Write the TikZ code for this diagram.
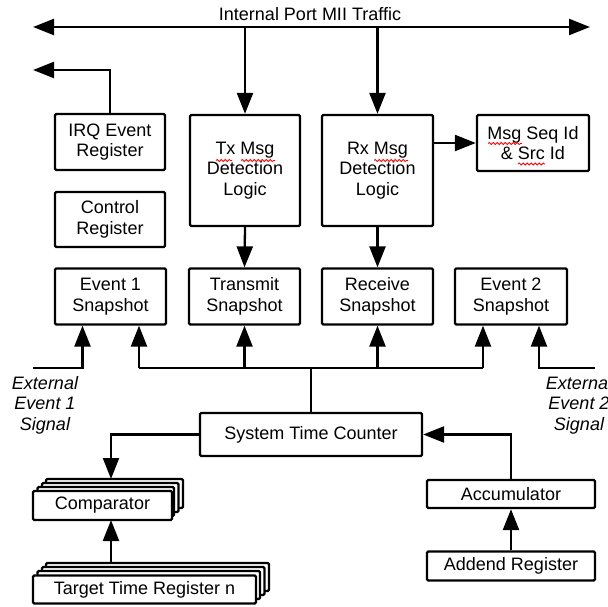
\documentclass[tikz,border=0pt]{standalone}
\usepackage{fontspec}
\setmainfont{Liberation Sans}
\usetikzlibrary{arrows.meta,decorations.pathmorphing}
\tikzset{
  box/.style={draw, line width=2.3pt, rounded corners=1.2pt, fill=white, align=center,
    inner sep=0pt, font=\fontsize{18}{20.5}\selectfont},
  mbox/.style={box, execute at begin node={\rule{0pt}{18pt}}},
  layer/.style={draw, line width=2.3pt, rounded corners=1.2pt, fill=white},
  wire/.style={line width=2.3pt},
  arr/.style={line width=2.3pt, -{Triangle[length=21pt,width=16pt]}},
  darr/.style={line width=2.3pt, {Triangle[length=21pt,width=16pt]}-{Triangle[length=21pt,width=16pt]}},
  lbl/.style={font=\fontsize{18}{20.5}\selectfont, align=center, inner sep=0pt},
  ext/.style={font=\fontsize{18}{20.5}\selectfont\itshape, align=center, inner sep=0pt},
  squig/.style={red, line width=0.8pt, decorate, decoration={snake, amplitude=1pt, segment length=4pt}}
}
\begin{document}
\begin{tikzpicture}[x=1pt,y=-1pt]
\useasboundingbox (0,0) rectangle (608,607);
\clip (0,0) rectangle (608,607);
% top bus
\coordinate (busL) at (33,27);
\coordinate (busR) at (590,27);
\draw[darr] (busL) -- (busR);
\node[lbl] (mii) at (310,14) {Internal Port MII Traffic};
% boxes row 1
\node[mbox, minimum width=110, minimum height=56] (irq) at (110,142) {IRQ Event\\Register};
\node[mbox, minimum width=110, minimum height=55] (ctrl) at (110,219.5) {Control\\Register};
\node[mbox, minimum width=110, minimum height=111] (tx) at (245,170.5) {Tx Msg\\Detection\\Logic};
\node[mbox, minimum width=111, minimum height=111] (rx) at (377.5,170.5) {Rx Msg\\Detection\\Logic};
\node[mbox, minimum width=112, minimum height=56] (msg) at (533,143) {Msg Seq Id\\\& Src Id};
% spell-check squiggles
\draw[squig] (216,160.5) -- (232,160.5);
\draw[squig] (241,160.5) -- (275,160.5);
\draw[squig] (374,160.5) -- (408,160.5);
\draw[squig] (488,143.5) -- (522,143.5);
\draw[squig] (518,164) -- (545,164);
% snapshots
\node[mbox, minimum width=111, minimum height=56] (ev1) at (110.5,296.5) {Event 1\\Snapshot};
\node[mbox, minimum width=111, minimum height=56] (tsn) at (244.5,296.5) {Transmit\\Snapshot};
\node[mbox, minimum width=111, minimum height=56] (rsn) at (377.5,296.5) {Receive\\Snapshot};
\node[mbox, minimum width=112, minimum height=56] (ev2) at (511,296.5) {Event 2\\Snapshot};
% system time counter
\node[box, minimum width=222, minimum height=43] (stc) at (311,434.5) {System Time Counter};
% accumulator / addend
\node[box, minimum width=168, minimum height=28] (acc) at (511,494) {Accumulator};
\node[box, minimum width=168, minimum height=29] (add) at (511,566) {Addend Register};
% comparator stack
\draw[layer] (46,479) rectangle (183,508);
\draw[layer] (42,483) rectangle (178.5,512);
\draw[layer] (37.5,487) rectangle (174,516);
\node[box, minimum width=139, minimum height=29] (cmp) at (102.5,505.5) {Comparator};
% target stack
\draw[layer] (46,563) rectangle (269,591);
\draw[layer] (42,567) rectangle (264.5,595);
\draw[layer] (37.5,571) rectangle (260,599);
\node[box, minimum width=223, minimum height=28] (ttr) at (144.5,589.5) {Target Time Register n};
% arrows from bus to detection logic
\draw[arr] (tx.north |- busL) -- (tx.north);
\draw[arr] (rx.north |- busL) -- (rx.north);
% IRQ out
\coordinate (irqout) at (33,70);
\draw[arr] (irq.north) |- (irqout);
% detection -> snapshot
\draw[arr] (tx.south) -- (tsn.north);
\draw[arr] (rx.south) -- (rsn.north);
\draw[arr] (rx.east |- msg.west) -- (msg.west);
% time bus
\coordinate (tb) at (311,368);
\coordinate (tbL) at (139,368);
\coordinate (tbR) at (483,368);
\draw[wire] (stc.north) -- (tb);
\draw[wire] (tbL) -- (tbR);
\draw[arr] (tbL) -- (tbL |- ev1.south);
\draw[arr] (tsn.south |- tb) -- (tsn.south);
\draw[arr] (rsn.south |- tb) -- (rsn.south);
\draw[arr] (tbR) -- (tbR |- ev2.south);
% external events
\coordinate (e1in) at (33,368);
\coordinate (e1up) at (82.5,368);
\draw[arr] (e1in) -- (e1up) -- (e1up |- ev1.south);
\coordinate (e2in) at (595,368);
\coordinate (e2up) at (539,368);
\draw[arr] (e2in) -- (e2up) -- (e2up |- ev2.south);
\node[ext] (ext1) at (45,405) {External\\Event 1\\Signal};
\node[ext] (ext2) at (579,405) {External\\Event 2\\Signal};
% stc -> comparator
\coordinate (cmpin) at (111,479);
\draw[arr] (stc.west) -| (cmpin);
\coordinate (cmpout) at (111,520);
\draw[arr] (cmpout |- 0,563) -- (cmpout);
% accumulator -> stc
\draw[arr] (acc.north) |- (stc.east);
\draw[arr] (add.north) -- (acc.south);
\end{tikzpicture}
\end{document}
